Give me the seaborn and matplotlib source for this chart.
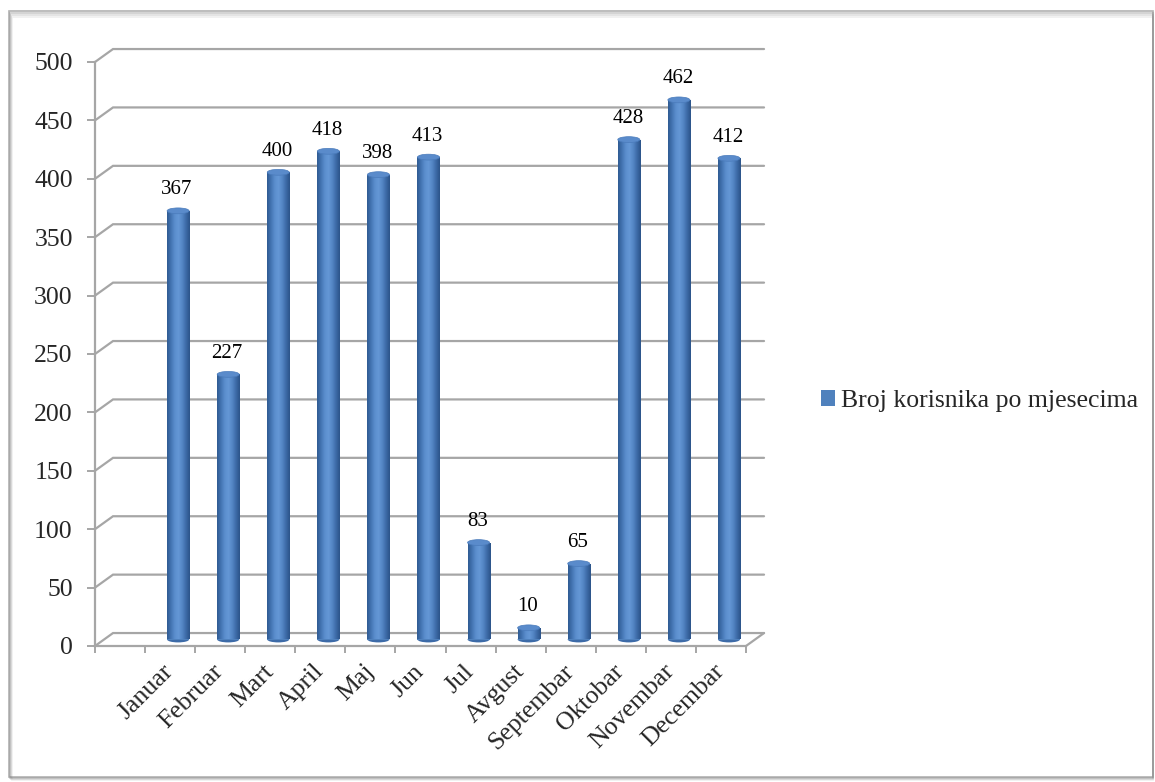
import numpy as np
import matplotlib
matplotlib.use("Agg")
import matplotlib.pyplot as plt
import matplotlib.transforms as mtransforms
from matplotlib.patches import Ellipse, Rectangle, Patch
from matplotlib.colors import LinearSegmentedColormap
import seaborn as sns

# podaci
months = ["Januar", "Februar", "Mart", "April", "Maj", "Jun", "Jul",
          "Avgust", "Septembar", "Oktobar", "Novembar", "Decembar"]
users = [367, 227, 400, 418, 398, 413, 83, 10, 65, 428, 462, 412]
y_ticks = [0, 50, 100, 150, 200, 250, 300, 350, 400, 450, 500]
series_name = "Broj korisnika po mjesecima"

sns.set_style("white")
plt.rcParams["font.family"] = ["Liberation Serif", "DejaVu Serif"]

W, H = 1155, 782
fig = plt.figure(figsize=(W / 100, H / 100), dpi=100)
ax = fig.add_axes([95 / W, 136 / H, 651 / W, 584 / H])

blue = "#4f81bd"
grid_c = "#a6a6a6"

sns.barplot(x=months, y=users, order=months, color=blue, saturation=1,
            width=0.44, ax=ax)
ax.set_xlim(-1.5, 11.5)
ax.set_ylim(0, 500)

# 3D pomak (zadnji zid i sredina dubine)
ddx, ddy = 0.36, 11.1
bar_off = mtransforms.ScaledTranslation(0.08, 0.065, fig.dpi_scale_trans)
bar_trans = ax.transData + bar_off

# zadnji zid - linije mreze
x0, x1 = ax.get_xlim()
for v in y_ticks:
    ax.plot([x0, x0 + ddx, x1 + ddx], [v, v + ddy, v + ddy], color=grid_c,
            lw=1.6, clip_on=False, zorder=0.5, solid_joinstyle="miter")
ax.plot([x1, x1 + ddx], [0, ddy], color=grid_c, lw=1.6, clip_on=False, zorder=0.5)

# valjci
cmap = LinearSegmentedColormap.from_list(
    "cyl", ["#2f5b92", "#4374b2", "#5a8dcd", "#6598d6", "#5486c5", "#3d6ba8", "#2c5489"])
grad = np.linspace(0, 1, 64).reshape(1, -1)
for p in ax.patches:
    p.set_transform(bar_trans)
    p.set_zorder(2)
    p.set_edgecolor("none")
    bx, bw, bh = p.get_x(), p.get_width(), p.get_height()
    cap = 5.0
    ax.add_patch(Ellipse((bx + bw / 2, 0), bw, cap, transform=bar_trans,
                         facecolor="#3d6ba8", edgecolor="none", zorder=1.9, clip_on=False))
    im = ax.imshow(grad, cmap=cmap, extent=[bx, bx + bw, 0, bh], aspect="auto",
                   transform=bar_trans, zorder=2.1, interpolation="bicubic")
    im.set_clip_path(p)
    ax.add_patch(Ellipse((bx + bw / 2, bh), bw, cap, transform=bar_trans,
                         facecolor="#5a8bcb", edgecolor="#4a7bbb", lw=0.5,
                         zorder=2.2, clip_on=False))
ax.set_xlim(-1.5, 11.5)
ax.set_ylim(0, 500)

# oznake vrijednosti
for i, v in enumerate(users):
    ax.annotate(str(v), xy=(i, v), xytext=(5, 13), textcoords="offset points",
                ha="center", va="bottom", fontsize=15, color="black", zorder=3)

# osi
for s in ["top", "right"]:
    ax.spines[s].set_visible(False)
for s in ["left", "bottom"]:
    ax.spines[s].set_color(grid_c)
    ax.spines[s].set_linewidth(1.6)

ax.set_yticks(y_ticks)
ax.set_yticklabels([str(t) for t in y_ticks], fontsize=18.5)
ax.tick_params(axis="y", length=6, width=1.4, color=grid_c, pad=10, left=True)

ax.set_xticks(range(len(months)))
ax.set_xticklabels(months, fontsize=18.5, rotation=45, ha="right",
                   rotation_mode="anchor")
ax.set_xticks(np.arange(-1.5, 12, 1.0), minor=True)
ax.tick_params(axis="x", which="major", length=0, pad=16)
ax.tick_params(axis="x", which="minor", length=5, width=1.4, color=grid_c,
               bottom=True)
for lbl in ax.get_xticklabels():
    lbl.set_va("center")
ax.set_xlabel("")
ax.set_ylabel("")
ax.grid(False)

# legenda
fig.legend(handles=[Patch(facecolor=blue, edgecolor="none", label=series_name)],
           loc="center left", bbox_to_anchor=(808 / W, 1 - 401 / H),
           frameon=False, fontsize=18.5, handlelength=0.55, handleheight=0.55,
           handletextpad=0.25, borderpad=0)

# okvir sa sjenom
for k, a in enumerate([0.6, 0.4, 0.25, 0.12]):
    fig.patches.append(Rectangle(((9 + k) / W, (5 - k) / H),
                                 (1144 - k) / W, (766 - k) / H,
                                 transform=fig.transFigure, fill=False,
                                 edgecolor="#7f7f7f", lw=1.2, alpha=a))

fig.savefig("out.png", dpi=100, facecolor="white")
